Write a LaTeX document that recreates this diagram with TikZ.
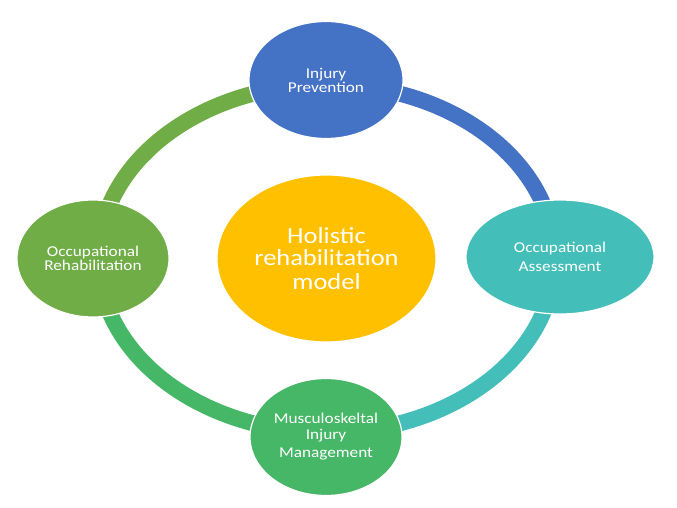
\documentclass[tikz,border=0pt]{standalone}
\usepackage{fontspec}
\setmainfont{Carlito}[FakeStretch=1.15]
\usetikzlibrary{shapes.geometric}
\definecolor{cblue}{HTML}{4472C4}
\definecolor{cteal}{HTML}{44BEB9}
\definecolor{cgreen}{HTML}{46B766}
\definecolor{colive}{HTML}{70AD47}
\definecolor{cgold}{HTML}{FFC000}
\tikzset{
  bubble/.style={ellipse, draw=white, line width=1.2pt, inner sep=0pt, text=white, align=center,
    font={\fontsize{15}{14}\selectfont}},
  hub/.style={bubble, font={\fontsize{23}{21.5}\selectfont}},
  ring/.style={line width=16pt}
}
\begin{document}
\begin{tikzpicture}[x=1pt,y=-1pt]
\useasboundingbox (0,0) rectangle (677,508);
\coordinate (rT) at (326.5,84.5);
\coordinate (rR) at (554.5,258.5);
\coordinate (rB) at (326.5,432.5);
\coordinate (rL) at (98.5,258.5);
\draw[ring, cblue]  (rT) arc[start angle=90,  end angle=0,    x radius=228pt, y radius=174pt];
\draw[ring, cteal]  (rR) arc[start angle=0,   end angle=-90,  x radius=228pt, y radius=174pt];
\draw[ring, cgreen] (rB) arc[start angle=270, end angle=180,  x radius=228pt, y radius=174pt];
\draw[ring, colive] (rL) arc[start angle=180, end angle=90,   x radius=228pt, y radius=174pt];
\node[hub, fill=cgold, minimum width=219pt, minimum height=167pt] (hub) at (326.5,258.5)
  {Holistic\\rehabilitation\\[2.5pt]model};
\node[bubble, fill=cblue, minimum width=154pt, minimum height=117pt] (prev) at (326,80)
  {Injury\\Prevention};
\node[bubble, fill=cteal, minimum width=188pt, minimum height=114pt] (assess) at (560,257)
  {Occupational\\[5pt]Assessment};
\node[bubble, fill=cgreen, minimum width=152pt, minimum height=117pt] (msk) at (326,437)
  {Musculoskeltal\\[2pt]Injury\\[4pt]Management};
\node[bubble, fill=colive, minimum width=152pt, minimum height=117pt] (rehab) at (93,258.5)
  {Occupational\\Rehabilitation};
\end{tikzpicture}
\end{document}
